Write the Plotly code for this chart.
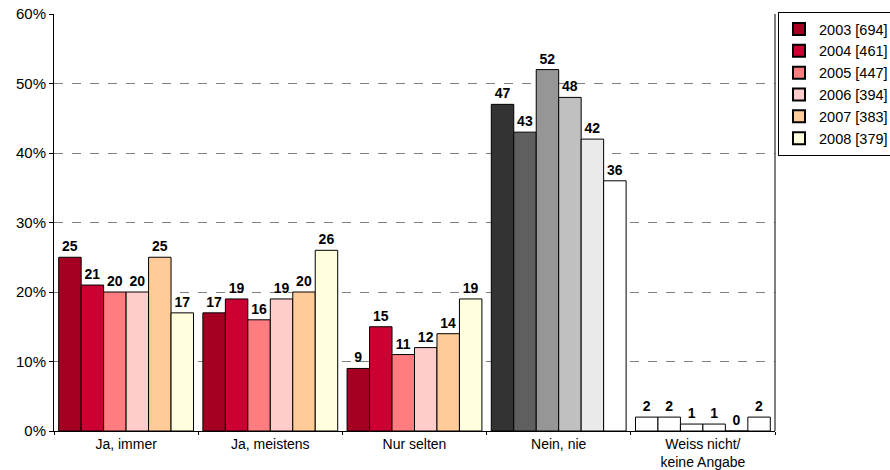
import plotly.graph_objects as go

categories = ["Ja, immer", "Ja, meistens", "Nur selten", "Nein, nie", "Weiss nicht/<br>keine Angabe"]
series_names = ["2003 [694]", "2004 [461]", "2005 [447]", "2006 [394]", "2007 [383]", "2008 [379]"]

v2003 = [25, 17, 9, 47, 2]
v2004 = [21, 19, 15, 43, 2]
v2005 = [20, 16, 11, 52, 1]
v2006 = [20, 19, 12, 48, 1]
v2007 = [25, 20, 14, 42, 0]
v2008 = [17, 26, 19, 36, 2]
values = [v2003, v2004, v2005, v2006, v2007, v2008]

y_ticks = [0, 10, 20, 30, 40, 50, 60]
y_tick_labels = ["0%", "10%", "20%", "30%", "40%", "50%", "60%"]

# per-year colours: red scale for the "yes/rarely" groups, grey scale for "never", white for "don't know"
reds = ["#A50021", "#CC0033", "#FF7C80", "#FFCCCC", "#FFCC99", "#FFFFDD"]
greys = ["#333333", "#5F5F5F", "#969696", "#C0C0C0", "#EAEAEA", "#FFFFFF"]
whites = ["#FFFFFF"] * 6

font_family = "Liberation Sans, Arial, sans-serif"

fig = go.Figure()
for i, name in enumerate(series_names):
    cols = [reds[i], reds[i], reds[i], greys[i], whites[i]]
    fig.add_trace(go.Bar(
        x=categories,
        y=values[i],
        name=name,
        marker=dict(color=cols, line=dict(color="#000000", width=1)),
        text=[str(v) for v in values[i]],
        textposition="outside",
        textfont=dict(family=font_family, size=14, color="#000000", weight="bold"),
        constraintext="none",
        cliponaxis=False,
    ))

fig.update_layout(
    width=890, height=470,
    margin=dict(l=54, r=115, t=14, b=39),
    barmode="group",
    bargap=0.065,
    bargroupgap=0,
    plot_bgcolor="#FFFFFF",
    paper_bgcolor="#FFFFFF",
    font=dict(family=font_family, size=15, color="#000000"),
    showlegend=True,
    legend=dict(
        xref="container", yref="container",
        x=778 / 890, y=1 - 12 / 470, xanchor="left", yanchor="top",
        bordercolor="#000000", borderwidth=1,
        bgcolor="#FFFFFF",
        font=dict(family=font_family, size=14.5, color="#000000"),
        tracegroupgap=0,
        itemsizing="constant",
    ),
    xaxis=dict(
        showline=True, linecolor="#000000", linewidth=1,
        ticks="outside", tickson="boundaries", ticklen=3, tickcolor="#000000",
        showgrid=False, automargin=False,
        tickfont=dict(family=font_family, size=14, color="#000000"),
    ),
    yaxis=dict(
        range=[0, 60], tickmode="array", tickvals=y_ticks, ticktext=y_tick_labels,
        showline=True, linecolor="#000000", linewidth=1,
        ticks="outside", ticklen=4, tickcolor="#000000",
        showgrid=True, gridcolor="#808080", griddash="dash", gridwidth=1,
        zeroline=False, automargin=False,
        tickfont=dict(family=font_family, size=15, color="#000000"),
    ),
)

# solid right border of the plot area
fig.add_shape(type="line", xref="paper", yref="paper", x0=1, x1=1, y0=0, y1=1,
              line=dict(color="#000000", width=1))

fig.write_html("out.html")
